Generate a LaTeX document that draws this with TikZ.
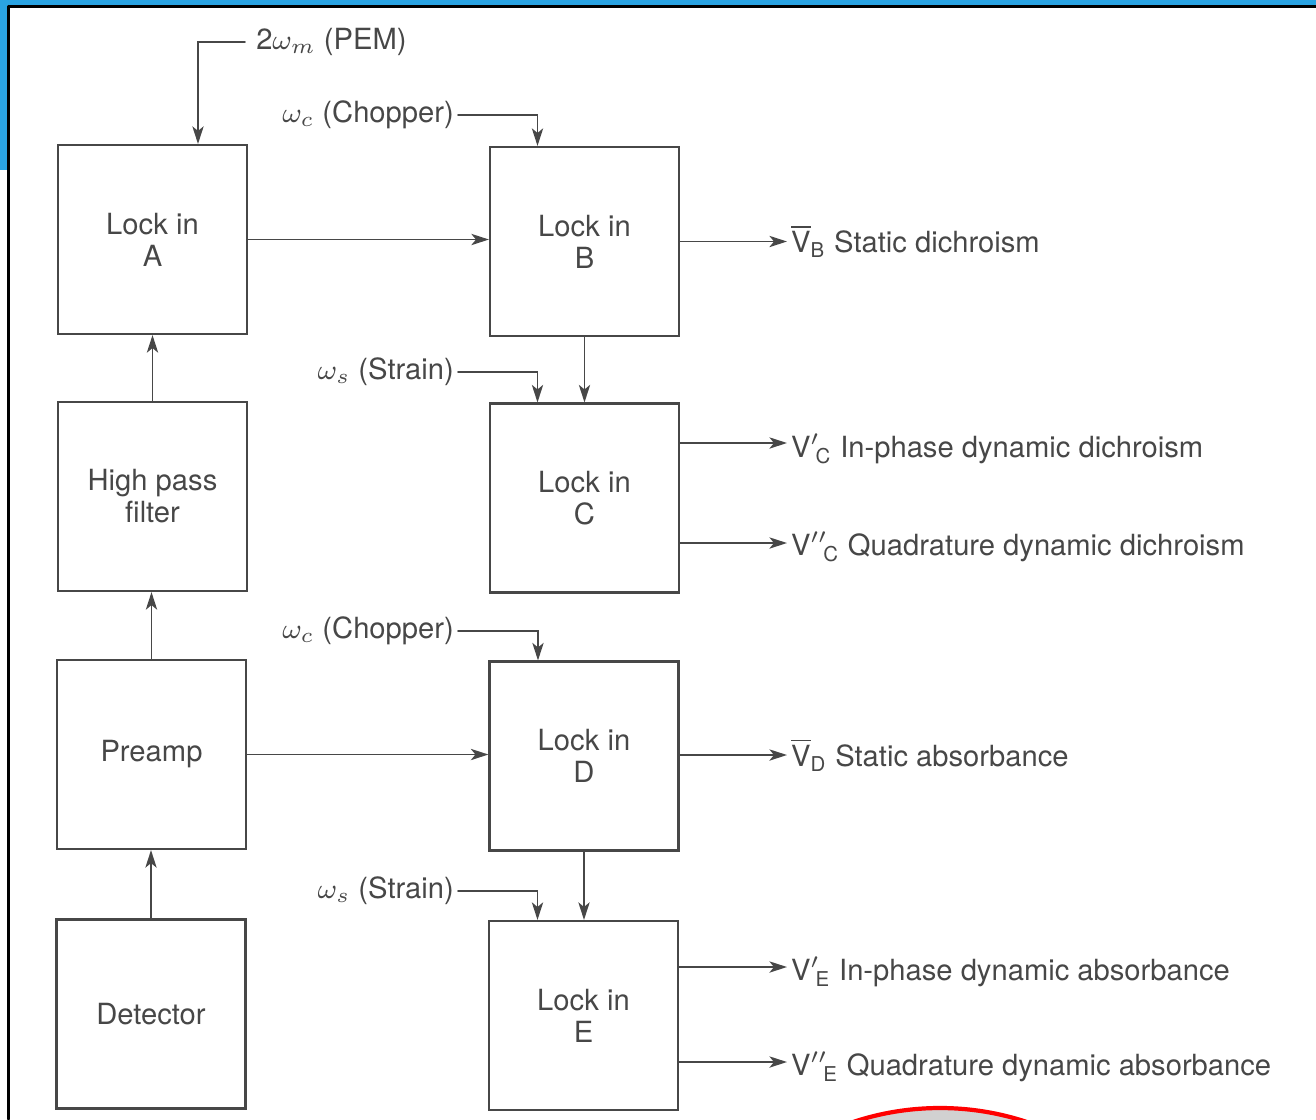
\documentclass[tikz,border=0pt]{standalone}
\usepackage{amsmath}
\usepackage{fontspec}
\setmainfont{TeX Gyre Heros}
\usetikzlibrary{arrows.meta}
\definecolor{inkgray}{HTML}{474747}
\definecolor{slideblue}{HTML}{2AA3E2}
\begin{document}
\begin{tikzpicture}[line cap=round,>={Stealth[length=5pt,width=3.2pt,inset=1.3pt]},
  font=\fontsize{8.3}{9.1}\selectfont, text=inkgray,
  block/.style={draw=inkgray, line width=0.6pt, minimum width=1.89cm, minimum height=1.89cm, align=center, inner sep=0pt},
  sig/.style={inner sep=1pt},
  wire/.style={draw=inkgray, line width=0.55pt}]
  \useasboundingbox (0,0) rectangle (13.16,-11.19);
  % slide frame
  \fill[slideblue] (0,0) rectangle (13.16,-0.055);
  \fill[slideblue] (0,0) rectangle (0.075,-1.70);
  \draw[black, line width=0.8pt] (0.085,-0.065) -- (13.16,-0.065);
  \draw[black, line width=0.9pt] (0.085,-0.065) -- (0.085,-11.19);
  \begin{scope}
    \clip (0,0) rectangle (13.16,-11.19);
    \filldraw[fill=black!18, draw=red, line width=1.2pt] (9.40,-13.83) circle (2.75);
  \end{scope}

  \node[block] (lockA)  at (1.525,-2.395)  {Lock in\\A};
  \node[block] (hpf)    at (1.525,-4.965)  {High pass\\filter};
  \node[block] (preamp) at (1.515,-7.545)  {Preamp};
  \node[block] (det)    at (1.51,-10.14)   {Detector};
  \node[block] (lockB)  at (5.845,-2.415)  {Lock in\\B};
  \node[block] (lockC)  at (5.845,-4.98)   {Lock in\\C};
  \node[block] (lockD)  at (5.84,-7.56)    {Lock in\\D};
  \node[block] (lockE)  at (5.835,-10.155) {Lock in\\E};

  \node[sig, anchor=west, inner xsep=3pt] (pem) at (2.45,-0.42) {2$\omega_m$ (PEM)};
  \node[sig, anchor=east] (chopB)   at (4.58,-1.15) {$\omega_c$ (Chopper)};
  \node[sig, anchor=east] (strainC) at (4.58,-3.72) {$\omega_s$ (Strain)};
  \node[sig, anchor=east] (chopD)   at (4.58,-6.31) {$\omega_c$ (Chopper)};
  \node[sig, anchor=east] (strainE) at (4.58,-8.91) {$\omega_s$ (Strain)};

  \coordinate (b1) at (7.87,-2.415);
  \coordinate (c1) at (7.87,-4.43);
  \coordinate (c2) at (7.87,-5.43);
  \coordinate (d1) at (7.87,-7.55);
  \coordinate (e1) at (7.87,-9.67);
  \coordinate (e2) at (7.87,-10.62);
  \node[sig, anchor=west] (outB)  at (b1) {$\overline{\text{V}}_{\text{B}}$ Static dichroism};
  \node[sig, anchor=west] (outC1) at ([yshift=-0.06cm]c1) {${\text{V}'}_{\!\text{C}}$ In-phase dynamic dichroism};
  \node[sig, anchor=west] (outC2) at ([yshift=-0.04cm]c2) {${\text{V}''}_{\!\text{C}}$ Quadrature dynamic dichroism};
  \node[sig, anchor=west] (outD)  at (d1) {$\overline{\text{V}}_{\text{D}}$ Static absorbance};
  \node[sig, anchor=west] (outE1) at ([yshift=-0.05cm]e1) {${\text{V}'}_{\!\text{E}}$ In-phase dynamic absorbance};
  \node[sig, anchor=west] (outE2) at ([yshift=-0.05cm]e2) {${\text{V}''}_{\!\text{E}}$ Quadrature dynamic absorbance};

  \draw[wire,->] (det.north) -- (det.north |- preamp.south);
  \draw[wire,->] (preamp.north) -- (preamp.north |- hpf.south);
  \draw[wire,->] (hpf.north) -- (hpf.north |- lockA.south);
  \draw[wire,->] (pem.west) -| ([xshift=0.455cm]lockA.north);
  \draw[wire,->] (lockA.east) -- (lockA.east -| lockB.west);
  \draw[wire,->] (preamp.east) -- (preamp.east -| lockD.west);
  \draw[wire,->] (chopB.east) -| ([xshift=-0.47cm]lockB.north);
  \draw[wire,->] (strainC.east) -| ([xshift=-0.47cm]lockC.north);
  \draw[wire,->] (chopD.east) -| ([xshift=-0.46cm]lockD.north);
  \draw[wire,->] (strainE.east) -| ([xshift=-0.46cm]lockE.north);
  \draw[wire,->] (lockB.south) -- (lockB.south |- lockC.north);
  \draw[wire,->] (lockD.south) -- (lockD.south |- lockE.north);
  \draw[wire,->] (lockB.east) -- (outB.west);
  \draw[wire,->] (c1 -| lockC.east) -- (c1);
  \draw[wire,->] (c2 -| lockC.east) -- (c2);
  \draw[wire,->] (lockD.east |- d1) -- (outD.west);
  \draw[wire,->] (e1 -| lockE.east) -- (e1);
  \draw[wire,->] (e2 -| lockE.east) -- (e2);
\end{tikzpicture}
\end{document}
